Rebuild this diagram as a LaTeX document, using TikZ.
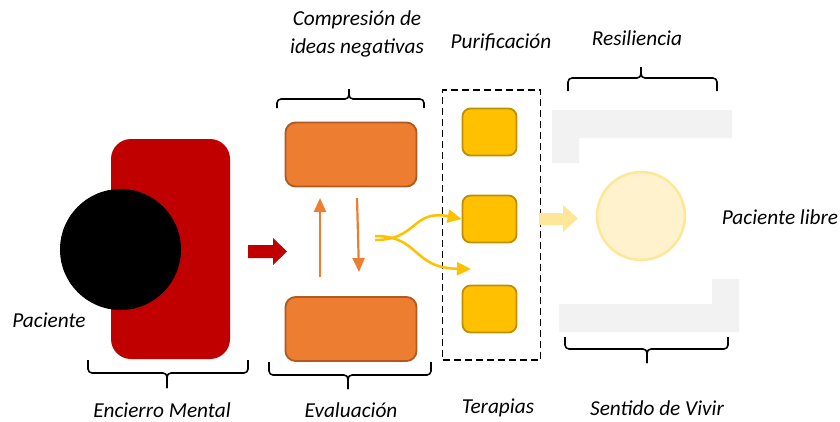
\documentclass[tikz,border=0pt]{standalone}
\usepackage{fontspec}
\setmainfont{Carlito}
\usetikzlibrary{arrows.meta}
\definecolor{darkred}{HTML}{C00000}
\definecolor{orng}{HTML}{ED7D31}
\definecolor{orngb}{HTML}{AE5A21}
\definecolor{gold}{HTML}{FFC000}
\definecolor{goldb}{HTML}{BF9000}
\definecolor{paleY}{HTML}{FFE699}
\definecolor{paleF}{HTML}{FFF2CC}
\definecolor{lgray}{HTML}{F2F2F2}
\newcommand{\mybrace}[7]{% name, x1, x2, yt, ym, yb, xt
  \draw[bracestyle] (#2,#4) -- (#2,#5) -- (#7,#5) -- (#7,#6);
  \draw[bracestyle] (#3,#4) -- (#3,#5) -- (#7,#5) -- (#7,#6);
  \coordinate (#1) at (#7,#6);}
\begin{document}
\begin{tikzpicture}[x=1pt,y=-1pt,
  lbl/.style={font=\fontsize{21.3}{28}\selectfont\itshape, inner sep=0pt, align=center},
  bracestyle/.style={line width=1.6pt, rounded corners=4pt, line join=round},
  orbox/.style={draw=orngb, fill=orng, line width=1.8pt, rounded corners=10pt, minimum width=131pt, minimum height=64pt, inner sep=0pt},
  gbox/.style={draw=goldb, fill=gold, line width=1.8pt, rounded corners=8pt, minimum width=54pt, minimum height=47pt, inner sep=0pt},
  orarrow/.style={draw=orng, line width=2.2pt, -{Triangle[length=14pt,width=12pt]}},
  yarrow/.style={draw=gold, line width=2.5pt, -{Triangle[length=14pt,width=13pt]}},
]
\useasboundingbox (0,0) rectangle (840,421);

% gray L shapes
\fill[lgray] (552,110) -- (732,110) -- (732,138) -- (579,138) -- (579,163) -- (552,163) -- cycle;
\fill[lgray] (559,304) -- (712,304) -- (712,279) -- (739,279) -- (739,332) -- (559,332) -- cycle;

% red box and patient
\node[fill=darkred, rounded corners=20pt, minimum width=119pt, minimum height=220pt, inner sep=0pt] (encierro) at (170.5,249) {};
\node[circle, fill=black, minimum size=121pt, inner sep=0pt] (paciente) at (120.5,249.5) {};

% red arrow
\fill[darkred] (248,245) -- (273,245) -- (273,238) -- (287,251.5) -- (273,265) -- (273,258) -- (248,258) -- cycle;

% orange boxes
\node[orbox] (comp) at (351,154.5) {};
\node[orbox] (eval) at (351,329) {};
\coordinate (upA) at (320,277);
\coordinate (upB) at (320,198);
\coordinate (dnA) at (357,198);
\coordinate (dnB) at (359,272);
\draw[orarrow] (upA) -- (upB);
\draw[orarrow] (dnA) -- (dnB);

% dashed frame and therapies
\node[draw=black, dashed, dash pattern=on 7pt off 4pt, line width=1.5pt, minimum width=98pt, minimum height=270pt, inner sep=0pt] (frame) at (491.5,225) {};
\node[gbox] (t1) at (489.5,132) {};
\node[gbox] (t2) at (489.5,219) {};
\node[gbox] (t3) at (489.5,309) {};

% yellow split arrows
\coordinate (ys1) at (375,240);
\coordinate (ys2) at (375,236);
\coordinate (yend2) at (471,269);
\draw[yarrow] (ys1) .. controls (418,240) and (412,209) .. (t2.west);
\draw[yarrow] (ys2) .. controls (420,236) and (412,268) .. (yend2);

% light yellow arrow
\fill[paleY] (539,213) -- (563,213) -- (563,205) -- (578,218.5) -- (563,232) -- (563,225) -- (539,225) -- cycle;

% free patient
\node[circle, fill=paleF, draw=paleY, line width=2.5pt, minimum size=88pt, inner sep=0pt] (libre) at (641,216) {};

% braces
\mybrace{b1}{88}{248}{360}{373}{388}{167}
\mybrace{b2}{277}{424}{108}{99}{89}{349}
\mybrace{b3}{269}{431}{362}{375}{389}{348}
\mybrace{b4}{568}{717}{91}{78}{67}{641}
\mybrace{b5}{565}{728}{337}{349}{363}{647}

% labels
\node[lbl] (lpac) at (49,320) {Paciente};
\node[lbl] (lenc) at (162,410) {Encierro Mental};
\node[lbl] (leval) at (351,410) {Evaluación};
\node[lbl] (lcomp) at (357,34) {Compresión de\\ideas negativas};
\node[lbl] (lpur) at (501,42) {Purificación};
\node[lbl] (lres) at (637,38) {Resiliencia};
\node[lbl] (lter) at (498,408) {Terapias};
\node[lbl] (lsen) at (657,408) {Sentido de Vivir};
\node[lbl] (llib) at (780,217) {Paciente libre};
\end{tikzpicture}
\end{document}
